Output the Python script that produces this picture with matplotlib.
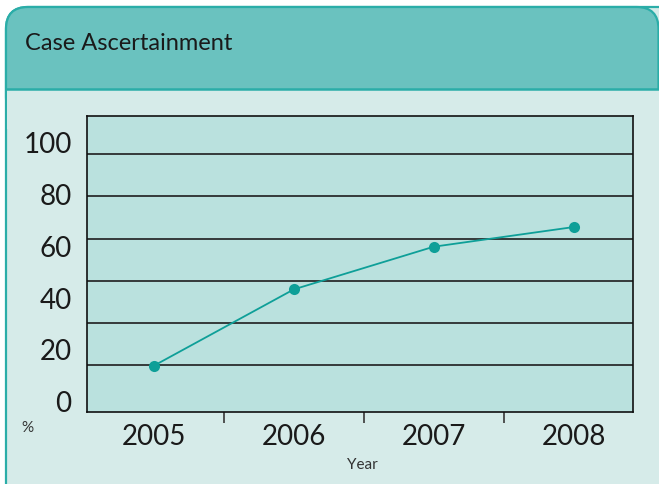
import matplotlib
matplotlib.use('Agg')
import matplotlib.pyplot as plt
from matplotlib.patches import FancyBboxPatch, Rectangle

plt.rcParams['font.family'] = ['Lato', 'DejaVu Sans']

### chart data

years = ['2005', '2006', '2007', '2008']
values = [13.9, 43.4, 59.9, 67.5]
y_ticks = [0, 20, 40, 60, 80, 100]
# the horizontal rules in the original do not sit on the labelled values
grid_levels = [14.1, 30.4, 46.7, 63.0, 79.5, 95.9]

title = 'Case Ascertainment'

### colours

header_col = '#6AC2BF'
border_col = '#2BADA8'
panel_col = '#D6EBE9'
plot_col = '#BAE1DE'
line_col = '#0E9F98'

W, H = 659, 484
fig = plt.figure(figsize=(W / 100, H / 100), dpi=100)
fig.patch.set_facecolor('white')

### panel background (pixel coords)

bg = fig.add_axes([0, 0, 1, 1])
bg.set_xlim(0, W)
bg.set_ylim(H, 0)
bg.axis('off')

body = FancyBboxPatch((6, 7), W + 30, H + 30, boxstyle='round,pad=0,rounding_size=22',
                      facecolor=panel_col, edgecolor=border_col, linewidth=1.6)
bg.add_patch(body)
head = FancyBboxPatch((6, 7), 652.5, 82 + 30, boxstyle='round,pad=0,rounding_size=22',
                      facecolor=header_col, edgecolor=border_col, linewidth=1.6)
bg.add_patch(head)
bg.add_patch(Rectangle((6.8, 89), W, 40, facecolor=panel_col, edgecolor='none'))
bg.plot([6, W], [89, 89], color=border_col, lw=1.8)

bg.text(25, 44, title, fontsize=17, color='#1a1a1a', va='center', ha='left')
bg.text(27, 428, '%', fontsize=11, color='#333333', va='center', ha='center')
bg.text(362, 465, 'Year', fontsize=11, color='#333333', va='center', ha='center')

### the chart itself

ax = fig.add_axes([87 / W, (H - 411.5) / H, 546 / W, 295.8 / H])
ax.set_facecolor(plot_col)
x = list(range(len(years)))

for g in grid_levels:
    ax.axhline(g, color='#1e1e1e', lw=1.2, zorder=1)

ax.plot(x, values, color=line_col, lw=1.3, marker='o', markersize=8,
        markeredgewidth=0, zorder=3)

ax.set_xlim(-0.478, 3.425)
ax.set_ylim(-3.8, 110.55)

ax.set_yticks(y_ticks)
ax.set_yticklabels([str(v) for v in y_ticks], fontsize=20, color='#1a1a1a')
ax.tick_params(axis='y', length=0, pad=11)

ax.set_xticks(x)
ax.set_xticklabels(years, fontsize=20, color='#1a1a1a')
ax.tick_params(axis='x', which='major', length=0, pad=9)
ax.set_xticks([0.5, 1.5, 2.5], minor=True)
ax.tick_params(axis='x', which='minor', length=8, width=1.3, color='#444444', direction='out')

for s in ax.spines.values():
    s.set_color('#111111')
    s.set_linewidth(1.2)

fig.savefig('out.png', dpi=100, facecolor=fig.get_facecolor())
